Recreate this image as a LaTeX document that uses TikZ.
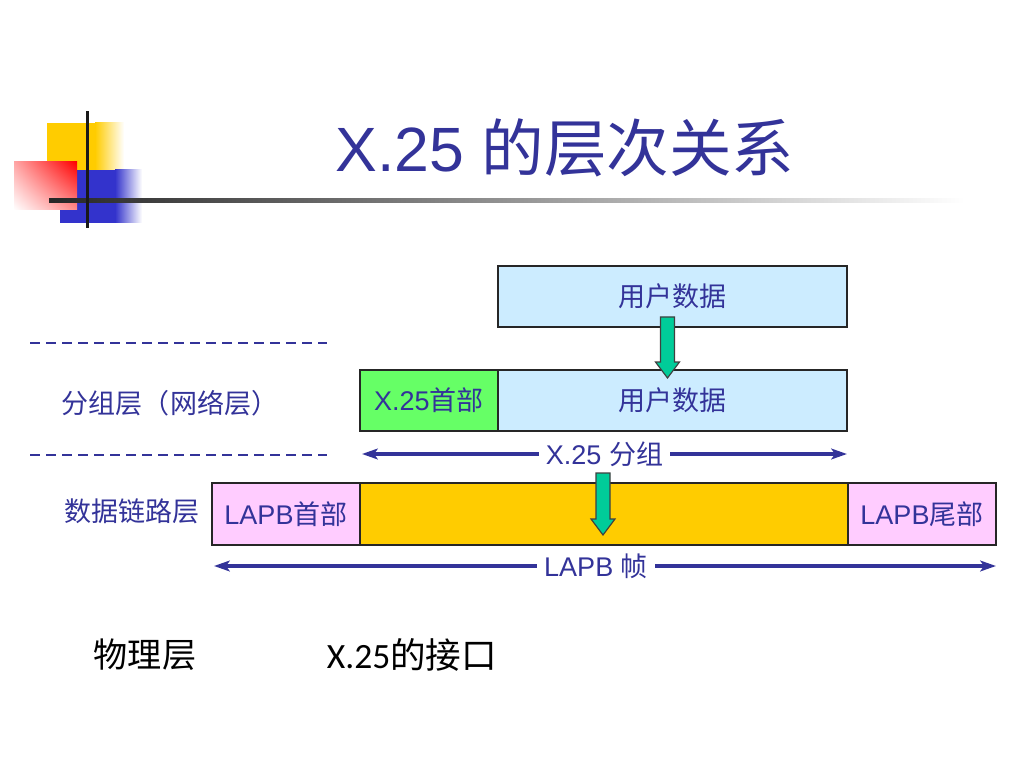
\documentclass[tikz,border=0pt]{standalone}
\usepackage{fontspec}
\setmainfont{Liberation Sans}
\newfontfamily\cjk{Noto Sans CJK SC}
\newfontfamily\calib{Carlito}
\usetikzlibrary{positioning}
\usetikzlibrary{calc}
\usetikzlibrary{arrows.meta}
\usetikzlibrary{shadings}
\definecolor{txtblue}{HTML}{333399}
\definecolor{boxblue}{HTML}{CCECFF}
\definecolor{hdrgreen}{HTML}{66FF66}
\definecolor{lapbpink}{HTML}{FFCCFF}
\definecolor{infoyellow}{HTML}{FFCC00}
\definecolor{arrowgreen}{HTML}{00CC99}
\definecolor{decoblue}{HTML}{3333CC}
\newlength\px
\setlength\px{0.703125pt}

\begin{document}
\begin{tikzpicture}[x=0.703125pt,y=-0.703125pt,>={Stealth[length=11pt,width=7.5pt,inset=2.5pt]}]
			\tikzset{field/.style = {shape=rectangle, draw=black!85, line width=1.5\px, outer sep=0pt, inner sep=0pt, minimum height=61\px, text=txtblue, font=\fontsize{19}{22}\selectfont}}
			\tikzset{layer/.style = {text=txtblue, font=\cjk\fontsize{19}{22}\selectfont}}
			\tikzset{dimline/.style = {<->, draw=txtblue, line width=3.2\px}}
			\tikzset{dimlabel/.style = {fill=white, inner sep=5pt, text=txtblue, font=\fontsize{19}{22}\selectfont}}
			\tikzset{layerline/.style = {draw=txtblue, line width=2.6\px, dash pattern=on 10\px off 6\px}}
			\tikzset{fatarrow/.style = {fill=arrowgreen, draw=black!75, line width=0.8pt, line join=miter}}
			
			\fill[white] (0,0) rectangle (1024,768);
			\useasboundingbox (0,0) rectangle (1024,768);
			
			\fill[infoyellow] (47,123) rectangle (96,170);
			\shade[left color=infoyellow, right color=white] (95,123) rectangle (124,170);
			\fill[decoblue] (60,170) rectangle (116,223);
			\shade[left color=decoblue, right color=white] (115,170) rectangle (142,223);
			\shade[upper right=red, upper left=red!35, lower right=red!45, lower left=white] (14,162) rectangle (77,210);
			\shade[left color=black!85, right color=white] (49,199) rectangle (965,203);
			\fill[black!90] (85.5,111) rectangle (88.5,228);
			
			\node[text=txtblue, font=\fontsize{44}{50}\selectfont] (TITLE) at (565,148) {X.25 {\cjk 的层次关系}};
			
			\draw[layerline] (30,343) -- (327,343);
			\draw[layerline] (30,455) -- (327,455);
			
			\node[field, fill=boxblue, minimum width=349\px] (DATA1) at (672.5,296.5) {\cjk 用户数据};
			\node[field, fill=boxblue, minimum width=349\px] (DATA2) at (672.5,400.5) {\cjk 用户数据};
			\node[field, fill=hdrgreen, minimum width=138\px, left=0pt of DATA2] (HDR) {X.25{\cjk 首部}};
			
			\node[field, fill=infoyellow, minimum width=488\px, minimum height=62\px] (INFO) at (604,514) {};
			\node[field, fill=lapbpink, minimum width=148\px, minimum height=62\px, left=0pt of INFO] (LAPBH) {LAPB{\cjk 首部}};
			\node[field, fill=lapbpink, minimum width=148\px, minimum height=62\px, right=0pt of INFO] (LAPBT) {LAPB{\cjk 尾部}};
			
			\node[layer] (NET) at (170,403) {分组层（网络层）};
			\node[layer] (LINK) at (132,511) {数据链路层};
			
			\draw[dimline] ($(HDR.south west)+(2,23)$) -- node[dimlabel] (PKT) {X.25 {\cjk 分组}} ($(DATA2.south east)+(0,23)$);
			\draw[dimline] ($(LAPBH.south west)+(2,21)$) -- node[dimlabel, xshift=-9\px] (FRAME) {LAPB {\cjk 帧}} ($(LAPBT.south east)+(0,21)$);
			
			\coordinate (A1S) at ($(DATA1.south)+(-5,-10)$);
			\coordinate (A1E) at ($(DATA2.north)+(-5,8)$);
			\coordinate (A2S) at ($(INFO.north)+(-1,-10)$);
			\coordinate (A2E) at ($(INFO.south)+(-1,-10)$);
			\foreach \s/\e in {A1S/A1E, A2S/A2E}
			\draw[fatarrow] ($(\s)+(-7,0)$) -- ($(\e)+(-7,-16)$) -- ($(\e)+(-12,-16)$) -- (\e) -- ($(\e)+(12,-16)$) -- ($(\e)+(7,-16)$) -- ($(\s)+(7,0)$) -- cycle;
			
			\node[font=\cjk\fontsize{24}{28}\selectfont] (PHY) at (145,655) {物理层};
			\node[font=\fontsize{25}{28}\selectfont] (IFACE) at (412,655) {{\calib X.25}{\cjk 的接口}};
			
			\end{tikzpicture}
\end{document}
